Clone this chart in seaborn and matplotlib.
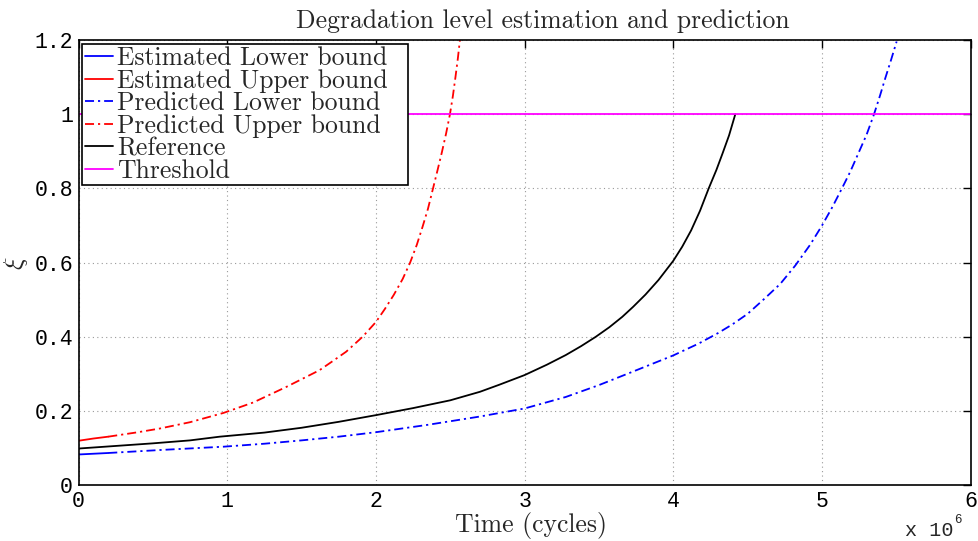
import numpy as np
import pandas as pd
import matplotlib
matplotlib.use("Agg")
import matplotlib.pyplot as plt
import seaborn as sns

# ---- data (time in units of 1e6 cycles) ----
est_x = [0.0, 0.1, 0.2]
est_lower = [0.083, 0.085, 0.087]
est_upper = [0.120, 0.126, 0.131]

pred_lower_x = [0.2, 0.547, 0.975, 1.25, 1.5, 1.75, 2.0, 2.35, 2.695, 3.0, 3.277, 3.5, 3.72,
                4.0, 4.171, 4.3, 4.395, 4.5, 4.619, 4.72, 4.82, 4.92, 5.0, 5.07, 5.134, 5.19,
                5.245, 5.30, 5.35, 5.39, 5.424, 5.465, 5.502]
pred_lower = [0.087, 0.095, 0.104, 0.112, 0.121, 0.131, 0.143, 0.163, 0.185, 0.207, 0.238,
              0.270, 0.305, 0.350, 0.382, 0.410, 0.433, 0.462, 0.505, 0.543, 0.592, 0.648,
              0.700, 0.750, 0.800, 0.845, 0.895, 0.945, 1.0, 1.05, 1.095, 1.147, 1.196]

pred_upper_x = [0.2, 0.4, 0.547, 0.75, 0.975, 1.174, 1.397, 1.62, 1.70, 1.80, 1.91, 2.0, 2.06,
                2.12, 2.18, 2.23, 2.275, 2.314, 2.35, 2.381, 2.415, 2.444, 2.472, 2.498,
                2.518, 2.535, 2.551, 2.565]
pred_upper = [0.131, 0.143, 0.153, 0.170, 0.195, 0.223, 0.265, 0.310, 0.332, 0.360, 0.40,
              0.44, 0.475, 0.513, 0.556, 0.60, 0.648, 0.697, 0.745, 0.795, 0.85, 0.898,
              0.948, 1.0, 1.05, 1.1, 1.15, 1.2]

ref_x = [0.0, 0.25, 0.5, 0.75, 0.95, 1.25, 1.5, 1.75, 2.0, 2.25, 2.5, 2.7, 2.83, 3.0, 3.15,
         3.277, 3.38, 3.478, 3.57, 3.657, 3.73, 3.813, 3.9, 4.0, 4.06, 4.12, 4.18, 4.238,
         4.29, 4.33, 4.375, 4.417]
ref_y = [0.099, 0.106, 0.113, 0.121, 0.131, 0.142, 0.155, 0.171, 0.189, 0.208, 0.229, 0.252,
         0.271, 0.297, 0.325, 0.351, 0.375, 0.40, 0.426, 0.454, 0.481, 0.514, 0.553, 0.605,
         0.643, 0.687, 0.740, 0.80, 0.850, 0.893, 0.943, 1.0]

thr_x = [0.0, 6.0]
thr_y = [1.0, 1.0]

xticks = [0, 1, 2, 3, 4, 5, 6]
yticks = [0, 0.2, 0.4, 0.6, 0.8, 1.0, 1.2]
ytick_labels = ["0", "0.2", "0.4", "0.6", "0.8", "1", "1.2"]

sns.set_style("white")
plt.rcParams["mathtext.fontset"] = "cm"

fig = plt.figure(figsize=(9.79, 5.41), dpi=100)
ax = fig.add_axes([0.0802, 0.103, 0.9113, 0.823])

def draw(x, y, color, style, label):
    df = pd.DataFrame({"x": x, "y": y})
    sns.lineplot(data=df, x="x", y="y", ax=ax, color=color, linewidth=1.3,
                 sort=False, estimator=None, label=label, linestyle=style)

dashdot = (0, (5, 2.2, 1.2, 2.2))
draw(est_x, est_lower, "#0000ff", "-", "Estimated Lower bound")
draw(est_x, est_upper, "#ff0000", "-", "Estimated Upper bound")
draw(pred_lower_x, pred_lower, "#0000ff", dashdot, "Predicted Lower bound")
draw(pred_upper_x, pred_upper, "#ff0000", dashdot, "Predicted Upper bound")
draw(ref_x, ref_y, "black", "-", "Reference")
draw(thr_x, thr_y, "#ff00ff", "-", "Threshold")

ax.set_xlim(0, 6)
ax.set_ylim(0, 1.2)
ax.set_xticks(xticks)
ax.set_xticklabels([str(t) for t in xticks])
ax.set_yticks(yticks)
ax.set_yticklabels(ytick_labels)
ax.grid(True, linestyle=(0, (1, 3)), color="#999999", linewidth=0.8)
ax.tick_params(direction="in", length=6, width=1, top=True, right=True,
               labelsize=15.5, pad=4, colors="black")
for lab in ax.get_xticklabels() + ax.get_yticklabels():
    lab.set_fontfamily("Liberation Mono")
for s in ax.spines.values():
    s.set_visible(True)
    s.set_color("black")
    s.set_linewidth(1.2)

ax.set_title("Degradation level estimation and prediction", fontfamily="cmr10",
             fontsize=18.5, pad=9, x=0.52)
ax.set_xlabel("Time (cycles)", fontfamily="cmr10", fontsize=18.5, labelpad=0, x=0.507)
ax.set_ylabel(r"$\xi$", fontsize=19, labelpad=3)

leg = ax.legend(loc="upper left", bbox_to_anchor=(0.004, 0.5, 0.365, 0.491),
                mode="expand", prop={"family": "cmr10", "size": 18.5},
                frameon=True, fancybox=False, framealpha=1, edgecolor="black",
                borderpad=0.1, labelspacing=-0.05, handlelength=1.1, handletextpad=0.15,
                borderaxespad=0.0)
leg.get_frame().set_linewidth(1.2)

fig.text(0.9244, 0.0092, "x 10", fontfamily="Liberation Mono", fontsize=14.5,
         ha="left", va="baseline")
fig.text(0.9745, 0.033, "6", fontfamily="Liberation Mono", fontsize=9,
         ha="left", va="baseline")

fig.savefig("out.png", dpi=100)
